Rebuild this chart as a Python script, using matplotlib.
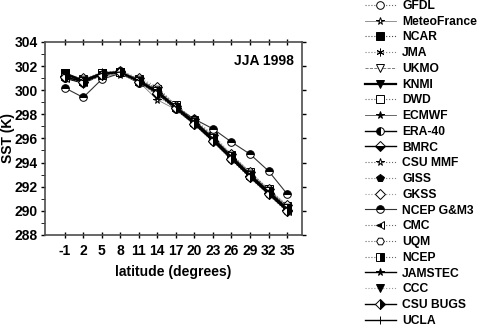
import matplotlib
matplotlib.use("Agg")
import matplotlib.pyplot as plt
from matplotlib.ticker import MultipleLocator

plt.rcParams['font.family'] = ['Liberation Sans', 'DejaVu Sans']
plt.rcParams['font.weight'] = 'bold'
plt.rcParams['axes.unicode_minus'] = False

# latitude of each point
lat = [-1, 2, 5, 8, 11, 14, 17, 20, 23, 26, 29, 32, 35]

models = ['GFDL', 'MeteoFrance', 'NCAR', 'JMA', 'UKMO', 'KNMI', 'DWD', 'ECMWF',
          'ERA-40', 'BMRC', 'CSU MMF', 'GISS', 'GKSS', 'NCEP G&M3', 'CMC', 'UQM',
          'NCEP', 'JAMSTEC', 'CCC', 'CSU BUGS', 'UCLA']

gfdl = [301.2, 300.9, 301.3, 301.6, 300.9, 300.1, 298.7, 297.5, 296.1, 294.6, 293.1, 291.7, 290.4]
meteofrance = [301.3, 300.7, 301.2, 301.3, 300.7, 299.2, 298.4, 297.2, 295.9, 294.4, 292.9, 291.5, 290.1]
ncar = [301.4, 300.8, 301.4, 301.5, 300.8, 299.9, 298.6, 297.4, 296.0, 294.5, 293.0, 291.6, 290.2]
jma = [301.3, 300.9, 301.5, 301.6, 300.9, 300.0, 298.7, 297.5, 296.1, 294.5, 293.1, 291.7, 290.3]
ukmo = [301.1, 300.6, 301.2, 301.4, 300.7, 299.8, 298.5, 297.3, 295.8, 294.3, 292.8, 291.5, 290.0]
knmi = [301.4, 300.8, 301.4, 301.5, 300.8, 299.9, 298.6, 297.4, 296.0, 294.5, 293.0, 291.6, 290.2]
dwd = [301.2, 300.9, 301.3, 301.5, 300.9, 300.1, 298.8, 297.5, 296.2, 294.6, 293.2, 291.8, 290.4]
ecmwf = [301.4, 300.8, 301.4, 301.5, 300.8, 299.9, 298.6, 297.4, 296.0, 294.5, 293.0, 291.6, 290.2]
era40 = [301.0, 300.6, 301.3, 301.5, 300.7, 299.8, 298.4, 297.2, 295.8, 294.3, 292.8, 291.4, 290.0]
bmrc = [301.2, 300.7, 301.3, 301.5, 300.7, 299.7, 298.5, 297.2, 295.8, 294.3, 292.9, 291.5, 290.1]
csummf = [301.3, 300.8, 301.4, 301.5, 300.8, 299.5, 298.5, 297.3, 295.9, 294.4, 292.9, 291.5, 290.2]
giss = [301.4, 300.9, 301.4, 301.6, 300.8, 300.0, 298.7, 297.5, 296.0, 294.6, 293.1, 291.7, 290.3]
gkss = [301.1, 301.0, 301.3, 301.6, 301.0, 300.3, 298.7, 297.6, 296.3, 294.7, 293.2, 291.8, 290.5]
ncepgm3 = [300.2, 299.4, 300.9, 301.4, 300.6, 299.9, 298.6, 297.6, 296.8, 295.7, 294.7, 293.3, 291.4]
cmc = [301.0, 300.7, 301.3, 301.5, 300.7, 299.8, 298.5, 297.2, 295.9, 294.3, 292.9, 291.5, 290.0]
uqm = [301.2, 300.9, 301.4, 301.6, 300.9, 300.1, 298.7, 297.5, 296.1, 294.6, 293.1, 291.7, 290.3]
ncep = [301.3, 300.8, 301.4, 301.5, 300.8, 299.9, 298.6, 297.4, 296.0, 294.5, 293.0, 291.6, 290.2]
jamstec = [301.4, 300.8, 301.4, 301.5, 300.7, 299.9, 298.6, 297.3, 295.9, 294.4, 292.9, 291.5, 290.1]
ccc = [301.3, 300.5, 301.3, 301.4, 300.6, 299.8, 298.4, 297.1, 295.7, 294.2, 292.7, 291.3, 289.9]
csubugs = [301.1, 300.7, 301.3, 301.5, 300.7, 299.8, 298.5, 297.2, 295.8, 294.3, 292.8, 291.4, 290.0]
ucla = [301.3, 300.8, 301.4, 301.5, 300.8, 299.9, 298.6, 297.4, 296.0, 294.5, 293.0, 291.6, 290.2]

series = [gfdl, meteofrance, ncar, jma, ukmo, knmi, dwd, ecmwf, era40, bmrc, csummf,
          giss, gkss, ncepgm3, cmc, uqm, ncep, jamstec, ccc, csubugs, ucla]

# (marker, fillstyle, face, linestyle, linewidth, linecolor)
styles = [
    ('o', 'full', 'white', ':', 0.8, '0.4'),
    ('*', 'full', 'white', '-', 0.6, '0.5'),
    ('s', 'full', 'k', ':', 0.8, '0.3'),
    ((6, 2, 0), 'full', 'k', ':', 0.8, '0.5'),
    ('v', 'full', 'white', '--', 0.6, '0.4'),
    ('v', 'full', 'k', '-', 1.6, 'k'),
    ('s', 'full', 'white', ':', 0.8, '0.4'),
    ('*', 'full', 'k', '-', 0.6, '0.3'),
    ('o', 'left', 'k', '-', 1.0, 'k'),
    ('D', 'bottom', 'k', '-', 1.0, 'k'),
    ('*', 'full', 'white', ':', 0.8, '0.4'),
    ('p', 'full', 'k', ':', 0.8, '0.5'),
    ('D', 'full', 'white', ':', 0.8, '0.6'),
    ('o', 'top', 'k', '-', 0.8, '0.2'),
    ('<', 'left', 'k', ':', 0.8, '0.4'),
    ('H', 'full', 'white', ':', 0.8, '0.4'),
    ('s', 'right', 'k', ':', 0.8, '0.4'),
    ('*', 'full', 'k', '-', 1.0, 'k'),
    ('v', 'full', 'k', ':', 0.8, '0.6'),
    ('D', 'right', 'k', '-', 1.0, 'k'),
    ('|', 'full', 'k', '-', 1.0, 'k'),
]

fig = plt.figure(figsize=(4.83, 3.28), dpi=100)
ax = fig.add_axes([0.093, 0.284, 0.532, 0.588])

for name, vals, st in zip(models, series, styles):
    mk, fs, face, ls, lw, lc = st
    ax.plot(lat, vals, linestyle=ls, linewidth=lw, color=lc,
            marker=mk, markersize=5.5, fillstyle=fs,
            markerfacecolor=face, markerfacecoloralt='white',
            markeredgecolor='k', markeredgewidth=0.7, label=name)

ax.set_xlim(-4.2, 37.4)
ax.set_ylim(288, 304)
ax.set_xticks(lat)
ax.yaxis.set_major_locator(MultipleLocator(2))
ax.yaxis.set_minor_locator(MultipleLocator(1))
ax.tick_params(axis='both', labelsize=10, width=1)
ax.tick_params(axis='y', which='both', direction='out', length=3, pad=2)
ax.tick_params(axis='x', direction='inout', length=5, pad=4)
ax.tick_params(top=True, right=True)
ax.tick_params(axis='y', which='minor', right=False)
for sp in ax.spines.values():
    sp.set_linewidth(1.2)
    sp.set_color('0.3')

ax.set_xlabel('latitude (degrees)', fontsize=10, fontweight='bold', labelpad=5)
ax.set_ylabel('SST (K)', fontsize=10, fontweight='bold')
ax.yaxis.set_label_coords(-0.118, 0.5)
ax.text(0.97, 0.9, 'JJA 1998', transform=ax.transAxes, ha='right', va='center',
        fontsize=10, fontweight='bold')

fig.legend(loc='upper left', bbox_to_anchor=(0.755, 1.0), frameon=False,
           fontsize=8.7, labelspacing=0.31, handlelength=2.6, handletextpad=0.5,
           borderpad=0, borderaxespad=0)

fig.savefig('out.png', dpi=100)
